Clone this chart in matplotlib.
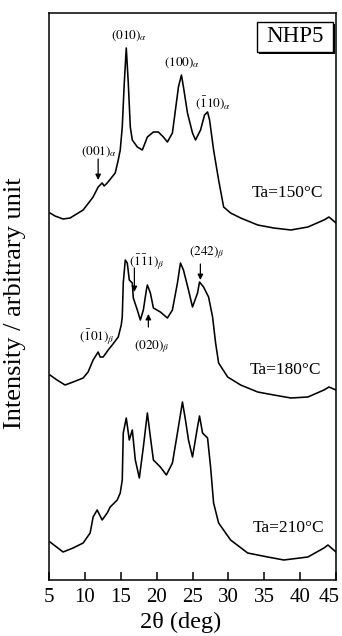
import matplotlib
matplotlib.use('Agg')
import matplotlib.pyplot as plt
import matplotlib.transforms as mtransforms
from matplotlib.patches import Rectangle

plt.rcParams['font.family'] = ['Liberation Serif', 'DejaVu Serif']
plt.rcParams['mathtext.fontset'] = 'stix'

# XRD patterns of NHP5, stacked (intensity in arbitrary units)
tt_150 = [5.14, 5.84, 6.96, 7.94, 9.76, 11.15, 11.85, 12.41, 12.69, 13.11, 14.23, 14.65,
          14.93, 15.21, 15.49, 15.77, 16.05, 16.33, 16.61, 17.31, 18.01, 18.71, 19.55,
          20.24, 20.94, 21.50, 22.20, 22.62, 23.04, 23.46, 23.74, 24.30, 25.00, 25.42,
          26.12, 26.68, 27.10, 27.38, 27.94, 28.64, 29.34, 30.31, 31.71, 34.09, 36.33,
          38.71, 41.08, 43.32, 44.02, 45.0]
int_150 = [367, 364, 361, 362, 370, 383, 393, 397, 394, 397, 407, 420,
           430, 453, 497, 532, 497, 453, 440, 433, 430, 443, 448,
           448, 443, 438, 447, 470, 493, 505, 493, 467, 447, 440,
           450, 465, 468, 460, 430, 400, 373, 367, 362, 355, 352,
           350, 353, 360, 363, 357]

tt_180 = [5.14, 6.12, 7.24, 8.36, 9.76, 10.45, 11.15, 11.85, 12.13, 12.55, 13.25, 13.81,
          14.65, 15.07, 15.21, 15.35, 15.63, 15.91, 16.19, 16.61, 16.75, 17.31, 17.73,
          18.15, 18.57, 18.71, 19.13, 19.55, 20.52, 21.50, 22.20, 22.90, 23.32, 23.74,
          24.44, 25.00, 25.70, 25.98, 26.54, 27.24, 27.80, 28.22, 28.64, 29.90, 31.71,
          34.09, 36.33, 38.71, 41.08, 43.32, 44.02, 45.0]
int_180 = [205, 200, 195, 198, 202, 208, 220, 228, 223, 223, 230, 235,
           243, 255, 263, 297, 320, 317, 300, 297, 282, 270, 260,
           270, 290, 295, 287, 272, 268, 262, 270, 297, 317, 310,
           290, 273, 287, 298, 293, 283, 263, 237, 217, 203, 195,
           188, 185, 182, 183, 190, 193, 190]

tt_210 = [5.14, 6.96, 8.36, 9.76, 10.73, 11.15, 11.71, 12.41, 13.11, 13.53, 14.51, 14.93,
          15.21, 15.35, 15.77, 16.19, 16.61, 17.03, 17.59, 18.15, 18.71, 19.13, 19.55,
          20.52, 21.36, 22.20, 22.90, 23.60, 24.02, 24.44, 25.00, 25.70, 25.98, 26.40,
          27.10, 27.52, 27.94, 28.64, 30.31, 32.69, 35.49, 37.73, 41.08, 43.32, 43.88, 45.0]
int_210 = [38, 28, 32, 37, 47, 63, 70, 60, 67, 73, 80, 87,
           100, 147, 162, 140, 150, 120, 102, 133, 167, 143, 120,
           113, 105, 117, 147, 178, 160, 140, 123, 153, 164, 147,
           142, 113, 77, 57, 40, 27, 23, 20, 23, 32, 35, 28]

xticks = [5, 10, 15, 20, 25, 30, 35, 40, 45]

fig = plt.figure(figsize=(3.42, 6.36), dpi=100)
ax = fig.add_axes([49 / 342, 1 - 580 / 636, 287 / 342, 567 / 636])

for tt, inten in [(tt_150, int_150), (tt_180, int_180), (tt_210, int_210)]:
    ax.plot(tt, inten, color='black', lw=1.15)

ax.set_xlim(5, 45)
ax.set_ylim(0, 567)
ax.set_xticks(xticks)
ax.set_yticks([])
ax.tick_params(axis='x', direction='in', length=6, width=1.1, labelsize=15, pad=6)
for s in ax.spines.values():
    s.set_linewidth(1.1)

# nudge the last tick label so it stays inside the figure
last = ax.get_xticklabels()[-1]
last.set_transform(last.get_transform() +
                   mtransforms.ScaledTranslation(-7 / 100, 0, fig.dpi_scale_trans))

ax.set_xlabel('2θ (deg)', fontsize=17.5, va='center')
ax.xaxis.set_label_coords(0.46, -42 / 567)
ax.set_ylabel('Intensity / arbitrary unit', fontsize=19, va='center')
ax.yaxis.set_label_coords(-34 / 287, 0.489)

# peak indexing
pk = dict(fontsize=9.5, ha='center', va='center')
ax.text(16.2, 544, r'$(010)_{\alpha}$', **pk)
ax.text(23.5, 517, r'$(100)_{\alpha}$', **pk)
ax.text(27.9, 477, r'$(\bar{1}10)_{\alpha}$', **pk)
ax.text(12.0, 428, r'$(001)_{\alpha}$', **pk)
ax.text(18.6, 318, r'$(\bar{1}\bar{1}1)_{\beta}$', **pk)
ax.text(27.0, 327, r'$(242)_{\beta}$', **pk)
ax.text(19.3, 233, r'$(020)_{\beta}$', **pk)
ax.text(11.7, 243, r'$(\bar{1}01)_{\beta}$', **pk)

arr = dict(arrowstyle='-|>', color='black', lw=0.9, mutation_scale=8, shrinkA=0, shrinkB=0)
ax.annotate('', xy=(11.85, 400), xytext=(11.85, 421), arrowprops=arr)
ax.annotate('', xy=(16.9, 288), xytext=(16.9, 312), arrowprops=arr)
ax.annotate('', xy=(26.1, 300), xytext=(26.1, 316), arrowprops=arr)
ax.annotate('', xy=(18.85, 266), xytext=(18.85, 253), arrowprops=arr)

tk = dict(fontsize=12.5, ha='center', va='center')
ax.text(38.2, 387, 'Ta=150°C', **tk)
ax.text(38.0, 210, 'Ta=180°C', **tk)
ax.text(38.4, 52, 'Ta=210°C', **tk)

# sample tag with a drop shadow
x0, x1 = (257 - 49) / 287, (333 - 49) / 287
y0, y1 = (580 - 52) / 567, (580 - 22) / 567
ax.add_patch(Rectangle((x0 + 2 / 287, y0 - 2 / 567), x1 - x0, y1 - y0,
                       transform=ax.transAxes, facecolor='black', lw=0, zorder=4))
ax.add_patch(Rectangle((x0, y0), x1 - x0, y1 - y0, transform=ax.transAxes,
                       facecolor='white', edgecolor='black', lw=1.0, zorder=5))
ax.text((x0 + x1) / 2, (y0 + y1) / 2, 'NHP5', transform=ax.transAxes,
        fontsize=16.5, ha='center', va='center', zorder=6)

fig.savefig('out.png', dpi=100)
